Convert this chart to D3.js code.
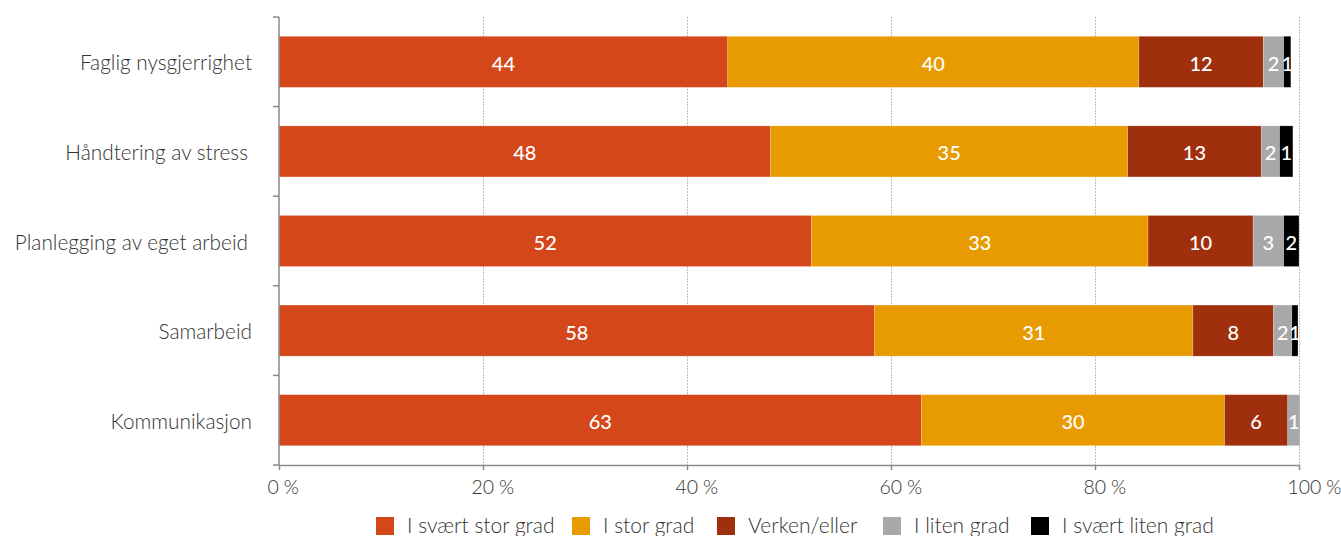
<!DOCTYPE html>
<html>
<head>
<meta charset="utf-8">
<script src="https://cdn.jsdelivr.net/npm/d3@7"></script>
<style>
  body { margin: 0; background: #fff; }
  text { font-family: Lato, "Open Sans", sans-serif; }
</style>
</head>
<body>
<div id="chart"></div>
<script>
// Data (percent)
const categories = ["Faglig nysgjerrighet", "Håndtering av stress", "Planlegging av eget arbeid", "Samarbeid", "Kommunikasjon"];
const seriesNames = ["I svært stor grad", "I stor grad", "Verken/eller", "I liten grad", "I svært liten grad"];
const sværtStor = [44.0, 48.2, 52.2, 58.4, 63.0];
const stor = [40.3, 35.0, 33.0, 31.2, 29.7];
const verken = [12.2, 13.1, 10.3, 7.9, 6.2];
const liten = [2.0, 1.8, 3.0, 1.8, 1.2];
const sværtLiten = [0.7, 1.3, 1.5, 0.6, 0];
const xTicks = [0, 20, 40, 60, 80, 100];

const colors = ["#d3471a", "#e79b00", "#a02f0e", "#a8a8a8", "#000000"];

let svgWidth = 1341;
let svgHeight = 536;
let margin = { top: 17, right: 42, bottom: 71, left: 279 };
let width = svgWidth - margin.left - margin.right;
let height = svgHeight - margin.top - margin.bottom;

let svg = d3.select("#chart")
  .append("svg")
  .attr("width", svgWidth)
  .attr("height", svgHeight);

let chartGroup = svg.append("g")
  .attr("transform", `translate(${margin.left}, ${margin.top})`);

// build rows for stacking
const rows = categories.map((c, i) => ({
  cat: c,
  s0: sværtStor[i], s1: stor[i], s2: verken[i], s3: liten[i], s4: sværtLiten[i]
}));
const keys = ["s0", "s1", "s2", "s3", "s4"];
const stacked = d3.stack().keys(keys)(rows);

const x = d3.scaleLinear().domain([0, 100]).range([0, width]);
const y = d3.scaleBand().domain(categories).range([0, height])
  .paddingInner(0.43).paddingOuter(0.215);

// grid lines
chartGroup.append("g")
  .selectAll("line")
  .data(xTicks.filter(d => d > 0))
  .enter()
  .append("line")
  .attr("x1", d => Math.round(x(d)) + 0.5)
  .attr("x2", d => Math.round(x(d)) + 0.5)
  .attr("y1", 0)
  .attr("y2", height)
  .attr("stroke", "#bdbdbd")
  .attr("stroke-width", 1)
  .attr("stroke-dasharray", "2,1");

// bars
let layers = chartGroup.selectAll(".layer")
  .data(stacked)
  .enter()
  .append("g")
  .attr("class", "layer")
  .attr("fill", (d, i) => colors[i]);

layers.selectAll("rect")
  .data(d => d)
  .enter()
  .append("rect")
  .attr("x", d => x(d[0]))
  .attr("y", d => y(d.data.cat))
  .attr("width", d => x(d[1]) - x(d[0]))
  .attr("height", y.bandwidth())
  .attr("stroke", "rgba(255,255,255,0.35)")
  .attr("stroke-width", 0.6);

// value labels
layers.selectAll("text")
  .data(d => d.filter(v => v[1] - v[0] > 0))
  .enter()
  .append("text")
  .attr("x", d => x((d[0] + d[1]) / 2))
  .attr("y", d => y(d.data.cat) + y.bandwidth() / 2 + 1)
  .attr("text-anchor", "middle")
  .attr("dominant-baseline", "central")
  .attr("fill", "white")
  .attr("font-size", "20px")
  .attr("font-weight", 500)
  .text(d => Math.round(d[1] - d[0]));

// x axis
const bottomAxis = d3.axisBottom(x)
  .tickValues(xTicks)
  .tickSize(5)
  .tickSizeOuter(0)
  .tickFormat(d => d + "\u202F%");

let xAxisG = chartGroup.append("g")
  .attr("transform", `translate(0, ${height})`)
  .call(bottomAxis);
xAxisG.select(".domain").attr("stroke", "#8a8a8a").attr("stroke-width", 1.5);
xAxisG.selectAll(".tick line").attr("stroke", "#8a8a8a").attr("stroke-width", 1.5);
xAxisG.selectAll(".tick text")
  .attr("text-anchor", "start")
  .attr("dx", -12)
  .attr("y", 15)
  .attr("font-size", "19.5px")
  .attr("letter-spacing", "-0.5px")
  .attr("font-weight", 300)
  .attr("font-family", "Lato, sans-serif")
  .attr("fill", "#333");

// y axis line with ticks at band boundaries
chartGroup.append("line")
  .attr("x1", 0).attr("x2", 0)
  .attr("y1", 0).attr("y2", height)
  .attr("stroke", "#8a8a8a").attr("stroke-width", 1.5);

chartGroup.append("g")
  .selectAll("line")
  .data(d3.range(categories.length + 1))
  .enter()
  .append("line")
  .attr("x1", -6).attr("x2", 0)
  .attr("y1", i => i * y.step())
  .attr("y2", i => i * y.step())
  .attr("stroke", "#8a8a8a").attr("stroke-width", 1.5);

// category labels
chartGroup.append("g")
  .selectAll("text")
  .data(categories)
  .enter()
  .append("text")
  .attr("x", d => (d.length > 19 && d !== categories[0]) ? -31 : -27)
  .attr("y", d => y(d) + y.bandwidth() / 2)
  .attr("text-anchor", "end")
  .attr("dominant-baseline", "central")
  .attr("font-size", "20.8px")
  .attr("font-weight", 300)
  .attr("fill", "#333")
  .text(d => d);

// legend
const legendX = [376, 572, 717, 883, 1031];
let legend = svg.append("g")
  .selectAll("g")
  .data(seriesNames)
  .enter()
  .append("g")
  .attr("transform", (d, i) => `translate(${legendX[i]}, 517)`);

legend.append("rect")
  .attr("width", 18)
  .attr("height", 18)
  .attr("fill", (d, i) => colors[i]);

legend.append("text")
  .attr("x", 31)
  .attr("y", 16)
  .attr("font-size", "21px")
  .attr("font-weight", 300)
  .attr("fill", "#333")
  .text(d => d);
</script>
</body>
</html>
